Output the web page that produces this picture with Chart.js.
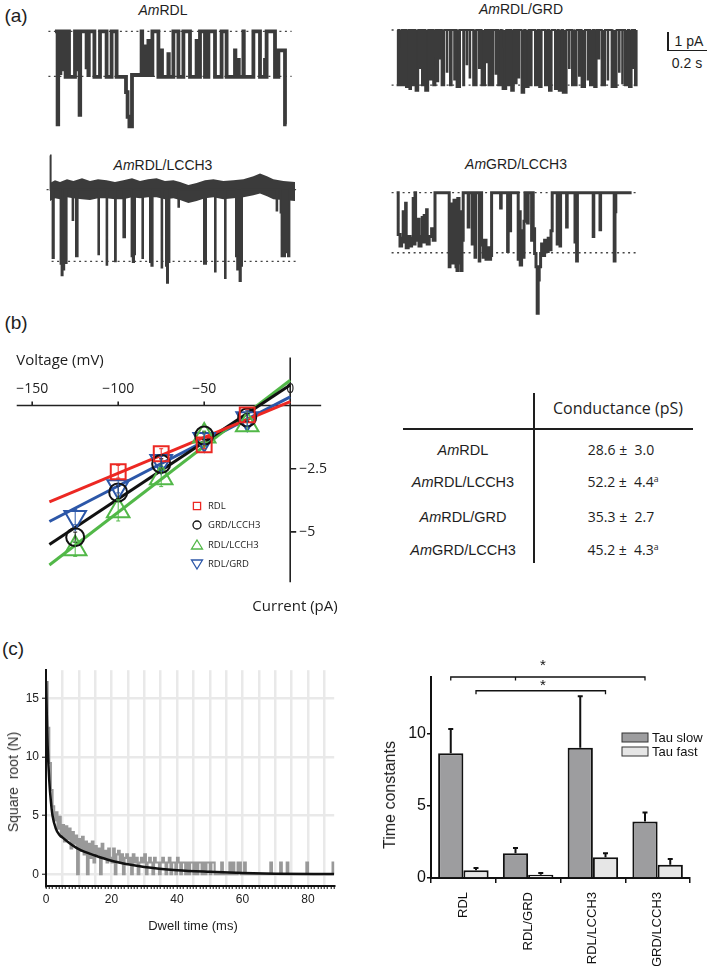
<!DOCTYPE html>
<html>
<head>
<meta charset="utf-8">
<title>Single-channel properties</title>
<script src="https://cdn.jsdelivr.net/npm/chart.js@4.4.1/dist/chart.umd.min.js"></script>
<style>
  html, body { margin:0; padding:0; background:#fff; }
  body { position:relative; width:709px; height:966px; overflow:hidden; font-family:"Liberation Sans", Arial, sans-serif; color:#1e1e1e; }
  canvas { position:absolute; }
  .c { position:absolute; transform:translate(-50%,-50%); white-space:nowrap; line-height:1; }
  .rot { transform:translate(-50%,-50%) rotate(-90deg); }
  .os { font-family:"Open Sans", sans-serif; }
  .ln { position:absolute; background:#1e1e1e; }
  sup { font-size:62%; vertical-align:0.6em; line-height:0; }
</style>
</head>
<body>

<!-- (a) single channel traces -->
<div class="c" style="left:16px;top:15px;font-size:19px">(a)</div>
<div class="c" style="left:163px;top:10px;font-size:14px"><i>Am</i>RDL</div>
<div class="c" style="left:521px;top:9px;font-size:14px"><i>Am</i>RDL/GRD</div>
<div class="c" style="left:163px;top:165px;font-size:14px"><i>Am</i>RDL/LCCH3</div>
<div class="c" style="left:516px;top:164px;font-size:14px"><i>Am</i>GRD/LCCH3</div>
<canvas id="trace1" width="260" height="115" style="left:45px;top:20px"></canvas>
<canvas id="trace2" width="260" height="80" style="left:385px;top:20px"></canvas>
<canvas id="trace3" width="265" height="150" style="left:40px;top:148px"></canvas>
<canvas id="trace4" width="255" height="140" style="left:385px;top:180px"></canvas>
<div class="ln" style="left:667px;top:32px;width:1.5px;height:19px"></div>
<div class="ln" style="left:667px;top:49.5px;width:40px;height:1.5px"></div>
<div class="c" style="left:689px;top:41px;font-size:14px">1 pA</div>
<div class="c" style="left:687px;top:63px;font-size:14px">0.2 s</div>

<!-- (b) I-V relationship and conductance table -->
<div class="c" style="left:16px;top:322px;font-size:19px">(b)</div>
<canvas id="ivChart" width="340" height="270" style="left:0;top:340px"></canvas>
<div class="c os" style="left:60px;top:359px;font-size:15px">Voltage (mV)</div>
<div class="c os" style="left:295px;top:605px;font-size:15px">Current (pA)</div>

<div class="ln" style="left:533px;top:393px;width:2px;height:170px"></div>
<div class="ln" style="left:403px;top:428px;width:290px;height:2px"></div>
<div class="c os" style="left:618px;top:408px;font-size:16px">Conductance (pS)</div>
<div class="c" style="left:463px;top:450px;font-size:14.5px"><i>Am</i>RDL</div>
<div class="c" style="left:463px;top:482px;font-size:14.5px"><i>Am</i>RDL/LCCH3</div>
<div class="c" style="left:463px;top:517px;font-size:14.5px"><i>Am</i>RDL/GRD</div>
<div class="c" style="left:463px;top:550px;font-size:14.5px"><i>Am</i>GRD/LCCH3</div>
<div class="c os" style="left:621px;top:450px;font-size:14px">28.6 &plusmn;&nbsp; 3.0</div>
<div class="c os" style="left:623px;top:482px;font-size:14px">52.2 &plusmn;&nbsp; 4.4<sup>a</sup></div>
<div class="c os" style="left:621px;top:517px;font-size:14px">35.3 &plusmn;&nbsp; 2.7</div>
<div class="c os" style="left:623px;top:550px;font-size:14px">45.2 &plusmn;&nbsp; 4.3<sup>a</sup></div>

<!-- (c) dwell time histogram and time constants -->
<div class="c" style="left:13px;top:648px;font-size:19px">(c)</div>
<canvas id="dwellChart" width="345" height="306" style="left:0;top:660px"></canvas>
<div class="c rot" style="left:13px;top:782px;font-size:14px;color:#333">Square&nbsp; root (N)</div>
<div class="c" style="left:193px;top:925px;font-size:13px;color:#222">Dwell time (ms)</div>
<canvas id="tauChart" width="334" height="326" style="left:375px;top:640px"></canvas>
<div class="c rot" style="left:390px;top:795px;font-size:16px">Time constants</div>

<script>
Chart.defaults.font.family = '"Liberation Sans", Arial, sans-serif';
Chart.defaults.color = '#1e1e1e';

// ---- (a) traces: time (ms) where a level starts, current (pA) ----
var T1_TIME = [0,13,16,25,27,42,44,53,55,70,100,117,119,123,126,158,160,167,169,197,225,258,283,308,355,363,372,385,433,436,450,452,467,469,487,517,533,535,567,569,592,617,642,675,708,710,725,750,767,800,833,858,900,902,917,919,942,944,992,1025,1050,1052,1058,1100,1117,1150,1158];
var T1_CURR = [0,-4.9,0,-2.2,0,-2.0,0,-2.4,0,-2.4,0,-2.0,0,-4.4,0,-1.9,0,-2.3,0,-2.4,0,-2.4,0,-2.4,-3.2,-4.5,-5.0,-2.3,0,-2.3,-0.8,-2.3,-0.5,-2.3,0,-2.4,-1.0,-2.4,-1.2,-2.4,0,-2.4,0,-2.4,-0.5,-2.4,0,-2.4,0,-2.4,0,-2.4,-1.0,-2.4,-1.5,-2.4,0,-2.4,0,-2.4,-1.5,-2.4,0,-2.4,-1.0,-4.9,-4.9];

var T2_TIME = [0,10,15,19,22,27,33,40,47,58,64,72,78,88,95,108,115,118,127,136,143,158,166,176,183,194,200,208,214,217,225,238,251,254,267,275,288,291,300,317,333,338,350,353,365,368,383,400,412,415,425,442,450,453,460,470,476,483,495,498,508,520,524,530,548,556,566,573,586,592,600,610,613,625,638,645,660,666,675,692,706,713,725,742,756,762,775,792,805,811,824,831,850,862,865,877,900,912,915,925,942,955,958,967,982,988,1000,1010,1013,1025,1042,1055,1058,1075,1100,1112,1115,1128,1131,1142,1156,1162,1175,1185,1188,1192,1200];
var T2_CURR = [-2.9,0,-2.9,-1.0,-2.9,0,-2.9,0,-3.0,0,-3.1,0,-2.9,0,-3.2,0,-2.0,0,-2.9,0,-3.2,0,-2.6,0,-2.9,0,-2.7,0,-1.5,0,-2.9,0,-2.2,0,-2.9,0,-2.6,0,-3.0,0,-2.9,0,-1.8,0,-2.5,0,-2.9,0,-2.0,0,-2.9,0,-1.7,0,-2.9,0,-2.9,0,-2.3,0,-2.9,0,-1.0,-3.1,0,-2.9,0,-3.2,0,-2.8,0,-2.5,0,-3.3,0,-3.0,0,-2.9,0,-2.9,0,-3.0,0,-2.9,0,-3.2,0,-3.1,0,-3.2,0,-3.3,0,-2.0,0,-2.9,0,-2.4,0,-3.0,0,-2.6,0,-2.9,0,-3.0,0,-1.5,0,-2.9,0,-2.6,0,-3.0,0,-2.2,0,-2.8,0,-2.9,0,-3.0,0,-2.0,0,-2.9,0];

var T3_TIME = [0,3,13,19,53,58,63,67,71,80,83,113,116,130,138,242,245,283,286,325,329,367,375,408,414,420,425,462,465,500,507,513,558,561,580,585,590,597,642,645,770,780,825,828,875,878,930,936,942,948,954,960,1133,1136,1153,1158,1175,1190,1197,1225];
var T3_CURR = [1.8,0,-3.6,0,-3.9,-4.5,-3.7,-4.2,0,-3.86,0,-1.6,0,-3.5,0,-3.4,0,-3.95,0,-3.77,0,-2.5,0,-3.5,-3.8,-3.4,0,-3.6,0,-3.8,-4.0,0,-4.1,0,-4.0,-4.9,-3.8,0,-0.9,0,-3.9,0,-4.3,0,-4.65,0,-3.5,-4.2,-3.6,-4.8,-4.0,0,-1.1,0,-1.2,-3.5,-3.3,-3.5,0,0];
// baseline noise envelope of trace 3
var T3_NOISE_TIME = [0,25,50,85,117,160,200,240,283,325,367,410,450,490,533,575,617,650,692,733,775,817,867,917,967,1017,1050,1085,1117,1167,1225];
var T3_NOISE_HI = [0.35,0.5,0.4,0.55,0.45,0.6,0.45,0.55,0.5,0.4,0.5,0.6,0.45,0.55,0.6,0.45,0.5,0.4,0.25,0.35,0.5,0.55,0.45,0.5,0.55,0.7,0.85,0.7,0.55,0.45,0.4];
var T3_NOISE_LO = [-0.6,-0.45,-0.5,-0.4,-0.45,-0.5,-0.55,-0.45,-0.45,-0.5,-0.5,-0.4,-0.45,-0.4,-0.4,-0.5,-0.45,-0.55,-0.7,-0.6,-0.45,-0.4,-0.5,-0.45,-0.4,-0.3,-0.2,-0.35,-0.5,-0.55,-0.6];

var T4_TIME = [0,8,17,25,33,37,45,48,58,67,75,83,87,92,95,108,112,122,128,132,138,142,150,153,163,175,183,192,263,267,272,277,282,287,292,297,302,306,312,316,322,327,333,358,361,378,381,392,395,413,416,425,433,440,447,455,462,470,475,520,523,555,558,567,570,608,614,618,625,630,637,642,655,658,675,678,683,690,697,703,708,713,720,725,733,740,750,758,765,772,778,803,806,817,820,850,853,892,895,900,904,983,986,1017,1020,1088,1092,1096,1175];
var T4_CURR = [0,-2.2,-2.8,-2.4,-1.0,-2.6,-0.55,-2.9,-2.3,-2.8,-2.4,-0.3,-2.7,0,-2.5,-1.4,-2.8,-2.3,-1.3,-2.6,-1.2,-2.4,-0.9,-2.7,-2.3,-1.9,-2.5,0,-3.9,-0.6,-3.1,-1.2,-3.7,-0.4,-2.9,-3.9,-4.1,-0.3,-3.7,-1.0,-4.1,-2.5,0,-1.8,0,-2.7,0,-3.4,0,-3.6,0,-2.75,-3.4,-2.5,-3.5,-2.9,-3.5,-3.3,0,-0.8,0,-3.1,0,-2.0,0,-3.5,-1.0,-3.8,-2.0,-3.4,-1.5,0,-1.6,0,-2.5,0,-1.9,-3.2,-3.9,-6.35,-4.6,-3.9,-3.2,-2.7,-3.3,-2.5,-3.1,-2.4,-3.0,-2.0,0,-2.7,0,-2.8,0,-1.8,0,-2.6,0,-3.6,0,-2.3,0,-1.95,0,-3.6,-1.0,0,0];

// ---- (b) I-V data ----
var IV_VOLTAGES = [-125, -100, -75, -50, -25];
var RDL_I       = [null, -2.62, -1.91, -1.56, -0.37];
var GRD_LCCH3_I = [-5.21, -3.44, -2.31, -1.19, -0.47];
var RDL_LCCH3_I = [-5.67, -4.17, -2.86, -1.21, -0.76];
var RDL_GRD_I   = [-4.42, -3.21, -2.21, -1.33, -0.51];
var RDL_ERR       = [0, 0.25, 0.2, 0.15, 0.2];
var GRD_LCCH3_ERR = [0.2, 0.25, 0.2, 0.15, 0.15];
var RDL_LCCH3_ERR = [0.3, 0.4, 0.35, 0.2, 0.25];
var RDL_GRD_ERR   = [0.3, 0.25, 0.2, 0.2, 0.3];
var FIT_VOLTAGES  = [-140, 0];
var RDL_FIT       = [-3.81, 0.15];
var GRD_LCCH3_FIT = [-5.5, 0.81];
var RDL_LCCH3_FIT = [-6.31, 1.0];
var RDL_GRD_FIT   = [-4.59, 0.34];
var VOLT_TICKS = [-150, -100, -50, 0];
var CURR_TICKS = [-2.5, -5];

// ---- (c) dwell histogram: sqrt(count) in 0.5 ms bins from 0 to 52 ms ----
var HIST_BIN = 0.5;
var HIST_SQRT = [16.4,12.5,9.5,7.2,5.8,4.6,5.3,3.9,4.9,3.2,
  4.2,2.8,4.1,3.0,3.9,2.2,3.6,2.6,3.3,0,
  3.0,2.0,3.2,1.7,2.8,0,2.6,1.4,2.8,1.0,
  2.4,1.7,2.2,0,2.6,1.4,2.0,1.0,2.2,1.4,
  1.0,2.2,0,1.7,2.0,1.0,1.7,0,1.4,1.7,
  1.0,1.4,0,1.7,1.0,1.4,0,1.0,1.4,1.0,
  1.7,0,1.0,1.4,1.0,0,1.4,1.0,1.0,0,
  1.0,1.4,1.0,0,1.0,1.4,0,1.0,1.0,0,
  1.4,1.0,0,1.0,1.0,0,1.0,0,1.0,1.0,
  0,1.0,0,1.0,1.0,0,1.0,0,1.0,1.0,
  0,1.0,1.0,0];
var HIST_TAIL_TIME = [53.5, 56, 57, 58.5, 59, 60.5, 68.5, 71.5, 73.5, 79.5, 87.5]; // single events
var FIT_TIME = [0,0.25,0.5,1,1.5,2,3,4,5,7,10,15,20,25,30,40,50,60,70,88];
var FIT_SQRT = [16.5,13.5,11,8,6.2,5.0,3.9,3.4,3.15,2.7,2.15,1.6,1.15,0.85,0.62,0.35,0.21,0.11,0.05,0.02];
var DWELL_LABELS = [0, 20, 40, 60, 80];
var SQRT_TICKS = [0, 5, 10, 15];

var GROUPS = ['RDL', 'RDL/GRD', 'RDL/LCCH3', 'GRD/LCCH3'];
var TAU_SLOW     = [8.62, 1.72, 9.01, 3.91];
var TAU_SLOW_ERR = [1.68, 0.35, 3.56, 0.62];
var TAU_FAST     = [0.53, 0.23, 1.43, 0.92];
var TAU_FAST_ERR = [0.16, 0.11, 0.29, 0.39];
var TAU_TICKS = [0, 5, 10];

var TRACE_COLOR = '#3b3b3b';

function xy(xs, ys) {
  var out = [];
  for (var i = 0; i < xs.length; i++) {
    if (ys[i] !== null) out.push({x: xs[i], y: ys[i]});
  }
  return out;
}

function traceChart(id, cfg) {
  var datasets = [{
    data: xy(cfg.time, cfg.curr), borderColor: TRACE_COLOR, backgroundColor: TRACE_COLOR,
    borderWidth: cfg.width, stepped: true, fill: cfg.fill ? 'origin' : false, pointRadius: 0
  }];
  if (cfg.noise) {
    datasets.push({data: xy(cfg.noise[0], cfg.noise[1]), borderWidth: 0, pointRadius: 0, fill: false});
    datasets.push({data: xy(cfg.noise[0], cfg.noise[2]), borderWidth: 0, pointRadius: 0,
      fill: '-1', backgroundColor: TRACE_COLOR});
  }
  cfg.dashes.forEach(function(d) {
    datasets.push({data: [{x: d[1], y: d[0]}, {x: d[2], y: d[0]}], borderColor: '#444',
      borderWidth: 1.3, borderDash: [2, 3.5], pointRadius: 0, fill: false});
  });
  new Chart(document.getElementById(id), {
    type: 'line',
    data: {datasets: datasets},
    options: {
      responsive: false, animation: false, devicePixelRatio: 1,
      layout: {padding: 0},
      elements: {line: {tension: 0}},
      scales: {
        x: {type: 'linear', min: cfg.xr[0], max: cfg.xr[1], display: false},
        y: {type: 'linear', min: cfg.yr[0], max: cfg.yr[1], display: false}
      },
      plugins: {legend: {display: false}, tooltip: {enabled: false}}
    }
  });
}

traceChart('trace1', {time: T1_TIME, curr: T1_CURR, width: 3.8, fill: false,
  xr: [-50, 1250], yr: [-5.46, 0.595], dashes: [[0, -33, 1183], [-2.37, -33, 1183]]});
traceChart('trace2', {time: T2_TIME, curr: T2_CURR, width: 2, fill: true,
  xr: [-58, 1242], yr: [-3.68, 0.526], dashes: [[0, -25, 1200], [-2.9, -25, 1200]]});
traceChart('trace3', {time: T3_TIME, curr: T3_CURR, width: 2, fill: true,
  noise: [T3_NOISE_TIME, T3_NOISE_HI, T3_NOISE_LO],
  xr: [-50, 1275], yr: [-5.7, 2.19], dashes: [[0, -17, 1242], [-3.77, 8, 1233]]});
traceChart('trace4', {time: T4_TIME, curr: T4_CURR, width: 3, fill: false,
  xr: [-58, 1217], yr: [-6.7, 0.667], dashes: [[0, -25, 1200], [-3.16, -25, 1200]]});

// ---- (b) ----
var IV_SERIES = [
  {label: 'RDL', curr: RDL_I, err: RDL_ERR, fit: RDL_FIT, color: '#ec2823', style: 'rect', r: 10.5, rot: 0},
  {label: 'GRD/LCCH3', curr: GRD_LCCH3_I, err: GRD_LCCH3_ERR, fit: GRD_LCCH3_FIT, color: '#111111', style: 'circle', r: 9, rot: 0},
  {label: 'RDL/LCCH3', curr: RDL_LCCH3_I, err: RDL_LCCH3_ERR, fit: RDL_LCCH3_FIT, color: '#52b848', style: 'triangle', r: 13, rot: 0},
  {label: 'RDL/GRD', curr: RDL_GRD_I, err: RDL_GRD_ERR, fit: RDL_GRD_FIT, color: '#2c57a8', style: 'triangle', r: 12.5, rot: 180}
];

function minus(v) { return v < 0 ? '\u2212' + Math.abs(v) : String(v); }

function legendShape(ctx, s, x, y) {
  ctx.beginPath();
  if (s.style === 'rect') {
    ctx.rect(x - 3.6, y - 3.6, 7.2, 7.2);
  } else if (s.style === 'circle') {
    ctx.arc(x, y, 4, 0, Math.PI * 2);
  } else if (s.rot === 0) {
    ctx.moveTo(x, y - 5); ctx.lineTo(x + 5.5, y + 4); ctx.lineTo(x - 5.5, y + 4); ctx.closePath();
  } else {
    ctx.moveTo(x, y + 5); ctx.lineTo(x + 5.5, y - 4); ctx.lineTo(x - 5.5, y - 4); ctx.closePath();
  }
  ctx.stroke();
}

var ivDecor = {
  id: 'ivDecor',
  beforeDatasetsDraw: function(chart) {
    var ctx = chart.ctx, x = chart.scales.x, y = chart.scales.y;
    var y0 = y.getPixelForValue(0), x0 = x.getPixelForValue(0);
    ctx.save();
    ctx.strokeStyle = '#222'; ctx.lineWidth = 1.6;
    ctx.beginPath();
    ctx.moveTo(x.getPixelForValue(-159), y0); ctx.lineTo(x.getPixelForValue(18), y0);
    ctx.moveTo(x0, y.getPixelForValue(1.9)); ctx.lineTo(x0, y.getPixelForValue(-7.0));
    VOLT_TICKS.forEach(function(v) {
      var px = x.getPixelForValue(v); ctx.moveTo(px, y0); ctx.lineTo(px, y0 - 4);
    });
    CURR_TICKS.forEach(function(c) {
      var py = y.getPixelForValue(c); ctx.moveTo(x0, py); ctx.lineTo(x0 + 6, py);
    });
    ctx.stroke();
    ctx.fillStyle = '#222';
    ctx.font = '14px "Open Sans", sans-serif';
    ctx.textAlign = 'center'; ctx.textBaseline = 'middle';
    VOLT_TICKS.forEach(function(v) { ctx.fillText(minus(v), x.getPixelForValue(v), y0 - 17); });
    ctx.textAlign = 'left';
    CURR_TICKS.forEach(function(c) { ctx.fillText(minus(c), x0 + 9, y.getPixelForValue(c)); });
    ctx.restore();
  },
  afterDatasetsDraw: function(chart) {
    var ctx = chart.ctx, x = chart.scales.x, y = chart.scales.y;
    ctx.save();
    ctx.lineWidth = 1;
    IV_SERIES.forEach(function(s) {
      ctx.strokeStyle = s.color;
      ctx.beginPath();
      IV_VOLTAGES.forEach(function(v, i) {
        if (s.curr[i] === null || !s.err[i]) return;
        var px = x.getPixelForValue(v);
        var top = y.getPixelForValue(s.curr[i] + s.err[i]);
        var bot = y.getPixelForValue(s.curr[i] - s.err[i]);
        ctx.moveTo(px, top); ctx.lineTo(px, bot);
        ctx.moveTo(px - 2, top); ctx.lineTo(px + 2, top);
        ctx.moveTo(px - 2, bot); ctx.lineTo(px + 2, bot);
      });
      ctx.stroke();
    });
    // legend
    var lx = 197, ly = [166, 185, 205, 224];
    ctx.font = '9.5px "Open Sans", sans-serif';
    ctx.textAlign = 'left'; ctx.textBaseline = 'middle';
    IV_SERIES.forEach(function(s, i) {
      ctx.strokeStyle = s.color; ctx.lineWidth = 1.3;
      legendShape(ctx, s, lx, ly[i]);
      ctx.fillStyle = '#222';
      ctx.fillText(s.label, lx + 11, ly[i]);
    });
    ctx.restore();
  }
};

var ivDatasets = [];
IV_SERIES.forEach(function(s) {
  ivDatasets.push({
    label: s.label, data: xy(IV_VOLTAGES, s.curr), showLine: false,
    pointStyle: s.style, pointRadius: s.r, pointRotation: s.rot, pointBorderWidth: 2,
    pointBorderColor: s.color, pointBackgroundColor: 'rgba(0,0,0,0)'
  });
});
IV_SERIES.forEach(function(s) {
  ivDatasets.push({
    label: s.label + ' fit', data: xy(FIT_VOLTAGES, s.fit), showLine: true,
    borderColor: s.color, borderWidth: 3, pointRadius: 0
  });
});

new Chart(document.getElementById('ivChart'), {
  type: 'scatter',
  data: {datasets: ivDatasets},
  options: {
    responsive: false, animation: false, devicePixelRatio: 1,
    layout: {padding: {left: 13, right: 15.4, top: 6.6, bottom: 10}},
    scales: {
      x: {type: 'linear', min: -160, max: 20, display: false},
      y: {type: 'linear', min: -7.5, max: 2, display: false}
    },
    plugins: {legend: {display: false}, tooltip: {enabled: false}}
  },
  plugins: [ivDecor]
});

// ---- (c) dwell time histogram ----
var histPoints = HIST_SQRT.map(function(v, i) { return {x: i * HIST_BIN, y: v}; });
histPoints.push({x: HIST_SQRT.length * HIST_BIN, y: 0});
HIST_TAIL_TIME.forEach(function(t) {
  histPoints.push({x: t, y: 1});
  histPoints.push({x: t + HIST_BIN, y: 0});
});
histPoints.push({x: 88, y: 0});

new Chart(document.getElementById('dwellChart'), {
  type: 'line',
  data: {
    datasets: [
      {label: 'fit', data: xy(FIT_TIME, FIT_SQRT), borderColor: '#111', borderWidth: 2.5,
        pointRadius: 0, cubicInterpolationMode: 'monotone', fill: false},
      {label: 'histogram', data: histPoints, borderColor: '#999999', borderWidth: 2.1,
        pointRadius: 0, stepped: true, fill: false}
    ]
  },
  options: {
    responsive: false, animation: false, devicePixelRatio: 1,
    layout: {padding: {top: 10, right: 10.8, left: 0, bottom: 0}},
    scales: {
      x: {
        type: 'linear', min: 0, max: 88,
        afterBuildTicks: function(s) {
          var t = [];
          for (var v = 0; v <= 88; v++) t.push({value: v});
          s.ticks = t;
        },
        afterFit: function(s) { s.height = 80; },
        ticks: {autoSkip: false, maxRotation: 0, padding: 3, color: '#222', font: {size: 12},
          callback: function(v) { return DWELL_LABELS.indexOf(v) >= 0 ? String(v) : ''; }},
        grid: {
          lineWidth: 2.5, tickLength: 3, tickWidth: 1.2, tickColor: '#333',
          color: function(c) {
            var v = c.tick ? c.tick.value : 0;
            return (v % 5 === 0 && v > 0 && v < 88) ? '#e9e9e9' : 'rgba(0,0,0,0)';
          }
        },
        border: {display: true, color: '#111', width: 2}
      },
      y: {
        type: 'linear', min: -1.0, max: 17.42,
        afterBuildTicks: function(s) { s.ticks = SQRT_TICKS.map(function(v) { return {value: v}; }); },
        afterFit: function(s) { s.width = 46; },
        ticks: {padding: 3, color: '#222', font: {size: 12}},
        grid: {color: '#e9e9e9', lineWidth: 2.5, tickLength: 4, tickWidth: 1.2, tickColor: '#333'},
        border: {display: true, color: '#111', width: 2}
      }
    },
    plugins: {legend: {display: false}, tooltip: {enabled: false}}
  }
});

// ---- (c) time constants bar chart ----
var SIG_BRACKETS = [
  {series: 0, from: 0, to: 3, mid: 1, level: 13.9, starGap: 14},
  {series: 1, from: 0, to: 2, mid: null, level: 12.95, starGap: 8}
];

var tauDecor = {
  id: 'tauDecor',
  afterDatasetsDraw: function(chart) {
    var ctx = chart.ctx, y = chart.scales.y;
    ctx.save();
    ctx.strokeStyle = '#111'; ctx.lineWidth = 2;
    [[TAU_SLOW, TAU_SLOW_ERR], [TAU_FAST, TAU_FAST_ERR]].forEach(function(pair, di) {
      chart.getDatasetMeta(di).data.forEach(function(bar, i) {
        var top = y.getPixelForValue(pair[0][i] + pair[1][i]);
        ctx.beginPath();
        ctx.moveTo(bar.x, bar.y); ctx.lineTo(bar.x, top);
        ctx.moveTo(bar.x - 2.5, top); ctx.lineTo(bar.x + 2.5, top);
        ctx.stroke();
      });
    });
    ctx.lineWidth = 1.3;
    ctx.fillStyle = '#111';
    ctx.font = '15px "Liberation Sans", Arial, sans-serif';
    ctx.textAlign = 'center'; ctx.textBaseline = 'middle';
    SIG_BRACKETS.forEach(function(b) {
      var bars = chart.getDatasetMeta(b.series).data;
      var x1 = bars[b.from].x, x2 = bars[b.to].x, py = y.getPixelForValue(b.level);
      ctx.beginPath();
      ctx.moveTo(x1, py + 3.5); ctx.lineTo(x1, py); ctx.lineTo(x2, py); ctx.lineTo(x2, py + 3.5);
      if (b.mid !== null) { ctx.moveTo(bars[b.mid].x, py); ctx.lineTo(bars[b.mid].x, py + 3.5); }
      ctx.stroke();
      ctx.fillText('*', 543 - 375, py - b.starGap + 3);
    });
    // legend
    var items = [['Tau slow', '#9d9d9f', 93], ['Tau fast', '#e6e6e6', 107]];
    ctx.font = '13px "Liberation Sans", Arial, sans-serif';
    ctx.textAlign = 'left';
    items.forEach(function(it) {
      ctx.fillStyle = it[1]; ctx.fillRect(247, it[2], 26, 9);
      ctx.strokeStyle = '#333'; ctx.lineWidth = 1; ctx.strokeRect(247, it[2], 26, 9);
      ctx.fillStyle = '#111'; ctx.fillText(it[0], 277, it[2] + 5);
    });
    ctx.restore();
  }
};

new Chart(document.getElementById('tauChart'), {
  type: 'bar',
  data: {
    labels: GROUPS,
    datasets: [
      {label: 'Tau slow', data: TAU_SLOW, backgroundColor: '#9d9d9f', borderColor: '#111', borderWidth: 2},
      {label: 'Tau fast', data: TAU_FAST, backgroundColor: '#e6e6e6', borderColor: '#111', borderWidth: 2}
    ]
  },
  options: {
    responsive: false, animation: false, devicePixelRatio: 1,
    layout: {padding: {top: 37, right: 19, left: 0, bottom: 0}},
    datasets: {bar: {categoryPercentage: 0.78, barPercentage: 1}},
    scales: {
      x: {
        afterFit: function(s) { s.height = 88; },
        ticks: {minRotation: 90, maxRotation: 90, padding: 9, color: '#111', font: {size: 13}},
        grid: {drawOnChartArea: false, offset: true, tickLength: 5, color: '#111', lineWidth: 1.5},
        border: {display: true, color: '#111', width: 2}
      },
      y: {
        min: 0, max: 13.9,
        afterBuildTicks: function(s) { s.ticks = TAU_TICKS.map(function(v) { return {value: v}; }); },
        afterFit: function(s) { s.width = 56; },
        ticks: {padding: 1, color: '#111', font: {size: 16}},
        grid: {drawOnChartArea: false, tickLength: 4, color: '#111', lineWidth: 1.5},
        border: {display: true, color: '#111', width: 2}
      }
    },
    plugins: {legend: {display: false}, tooltip: {enabled: false}}
  },
  plugins: [tauDecor]
});
</script>
</body>
</html>
